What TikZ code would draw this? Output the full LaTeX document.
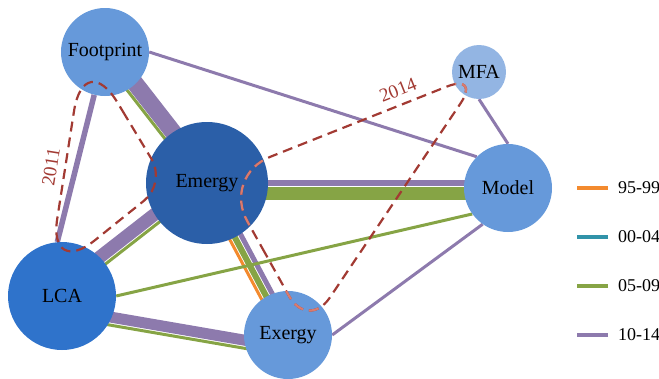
\documentclass[tikz,border=0pt]{standalone}
\usepackage{fontspec}
\setmainfont{Liberation Serif}
\usetikzlibrary{calc,backgrounds}
\definecolor{purp}{HTML}{8D7AAD}
\definecolor{grn}{HTML}{86A445}
\definecolor{orng}{HTML}{F38A2E}
\definecolor{tealline}{HTML}{3193A9}
\definecolor{dashred}{HTML}{A23A33}
\definecolor{dashpink}{HTML}{D97B6E}
\definecolor{lightblue}{HTML}{6699DA}
\definecolor{darkblue}{HTML}{2B5FA8}
\definecolor{midblue}{HTML}{2F73CB}
\definecolor{paleblue}{HTML}{93B5E3}
\tikzset{topic/.style={circle,inner sep=0,font=\fontsize{20}{24}\selectfont},
    trend/.style={line width=3pt},
    yearloop/.style={dashred,dash pattern=on 10pt off 6pt,line width=2.2pt},
    yeartext/.style={dashred,inner sep=1pt,font=\fontsize{19}{22}\selectfont},
    legendtext/.style={anchor=west,inner sep=0,font=\fontsize{18}{22}\selectfont}}

\begin{document}
\begin{tikzpicture}[x=1pt,y=-1pt]

\useasboundingbox (0,0) rectangle (659,378);

% topics

\node (foot) at (105,52) [topic,fill=lightblue,minimum size=88pt] {Footprint};
\node (emer) at (207,183) [topic,fill=darkblue,minimum size=122pt] {Emergy};
\node (lca) at (62,296) [topic,fill=midblue,minimum size=108pt] {LCA};
\node (exer) at (288,335) [topic,fill=lightblue,minimum size=88pt] {Exergy};
\node (mfa) at (479,72) [topic,fill=paleblue,minimum size=54pt] {MFA};
\node (model) at (508,188) [topic,fill=lightblue,minimum size=88pt] {Model};

% links per period

\begin{scope}[on background layer]
\foreach \a/\b/\off/\w/\col in {
  foot/emer/4.5/17/purp,
  foot/emer/-6/3/grn,
  lca/emer/7.5/13/purp,
  lca/emer/-1.5/3/grn,
  lca/exer/-12.5/11/purp,
  lca/exer/-20.5/3/grn,
  emer/exer/5.5/5/purp,
  emer/exer/-1/6/grn,
  emer/exer/-6.5/3/orng}
    \draw [\col,line width=\w pt] ($(\a)!\off pt!90:(\b)$) -- ($(\b)!\off pt!-90:(\a)$);

\draw [purp,line width=6pt] (emer.center) -- (emer.center -| model.center);
\draw [grn,line width=13pt] ($(emer)+(0,10.5)$) coordinate (g1) -- (g1 -| model.center);

\draw [purp,line width=5.5pt] (foot) -- (lca.95);
\draw [purp,trend] (foot.east) -- (model.135);
\draw [purp,trend] (mfa.south) -- (model.north);
\draw [purp,trend] (exer.east) -- (model.235);
\draw [grn,trend] (lca.east) -- (model.216);
\end{scope}

% year loops

\coordinate (y11a) at (84,47);
\coordinate (y11b) at (48,278);
\coordinate (y11c) at (166,183);
\coordinate (y14a) at (222,176);
\coordinate (y14b) at (481,73);
\coordinate (y14c) at (308,330);

\draw [yearloop] ($(y11c)!0.5!(y11a)$) [rounded corners=65pt] -- (y11a)
    [rounded corners=60pt] -- (y11b) [rounded corners=28pt] -- (y11c) -- ($(y11c)!0.5!(y11a)$);
\draw [yearloop] ($(y14c)!0.5!(y14a)$) [rounded corners=52pt] -- (y14a)
    [rounded corners=37pt] -- (y14b) [rounded corners=39pt] -- (y14c) -- ($(y14c)!0.5!(y14a)$);

\begin{scope}
\clip (emer.center) circle[radius=61pt] (mfa.center) circle[radius=27pt] (exer.center) circle[radius=44pt];
\draw [yearloop,dashpink] ($(y14c)!0.5!(y14a)$) [rounded corners=52pt] -- (y14a)
    [rounded corners=37pt] -- (y14b) [rounded corners=39pt] -- (y14c) -- ($(y14c)!0.5!(y14a)$);
\end{scope}

\node (lab11) at (51,167) [yeartext,rotate=81] {2011};
\node (lab14) at (398,90) [yeartext,rotate=21.7] {2014};

% legend

\foreach \lab/\col/\yy in {95-99/orng/188, 00-04/tealline/237, 05-09/grn/286, 10-14/purp/335} {
    \node (leg\yy) at (618,\yy) [legendtext] {\lab};
    \draw [\col,line width=4pt] ([xshift=-10pt]leg\yy.west) -- ++(-31,0);
}

\end{tikzpicture}
\end{document}
